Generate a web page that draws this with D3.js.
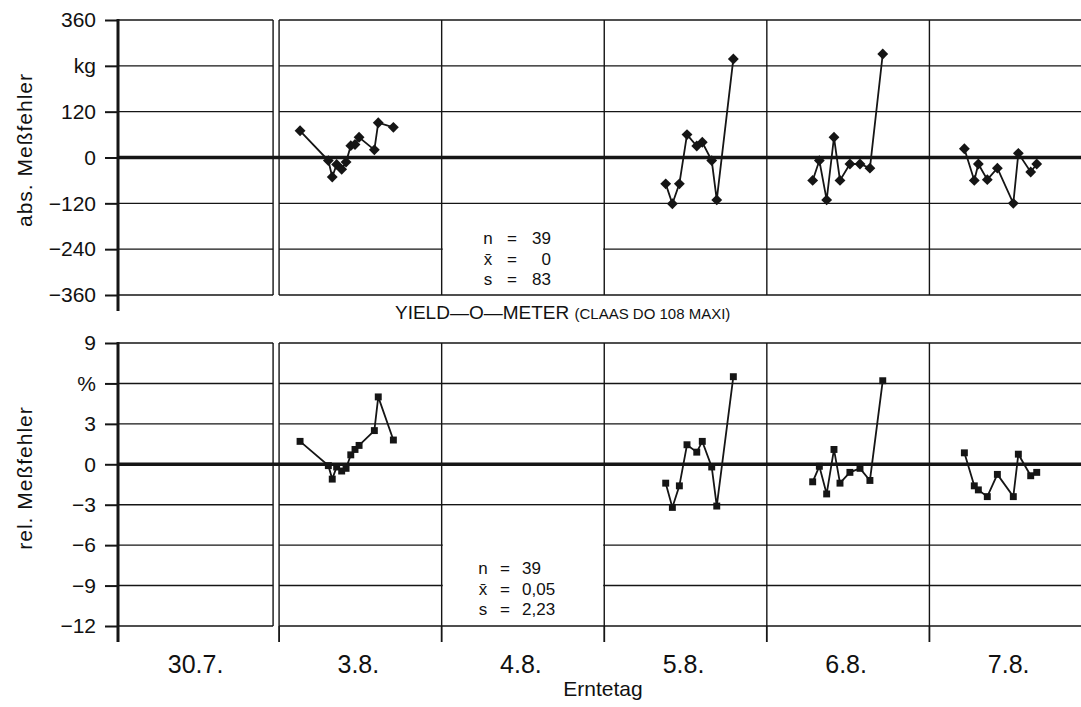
<!DOCTYPE html>
<html>
<head>
<meta charset="utf-8">
<script src="https://cdn.jsdelivr.net/npm/d3@7"></script>
<style>
  body { margin: 0; background: #fff; }
  svg text { font-family: "Liberation Sans", Arial, sans-serif; fill: #111; }
</style>
</head>
<body>
<svg id="chart" width="1081" height="707"></svg>
<script>
// categories (harvest days)
var days = ['30.7.', '3.8.', '4.8.', '5.8.', '6.8.', '7.8.'];

// y ticks
var absTicks = [360, 240, 120, 0, -120, -240, -360];
var absTickLabels = ['360', 'kg', '120', '0', '\u2212120', '\u2212240', '\u2212360'];
var relTicks = [9, 6, 3, 0, -3, -6, -9, -12];
var relTickLabels = ['9', '%', '3', '0', '\u22123', '\u22126', '\u22129', '\u221212'];

// measurements: position in day units, absolute error (kg), relative error (%)
var posAug3 = [1.129, 1.303, 1.327, 1.354, 1.385, 1.412, 1.441, 1.467, 1.492, 1.586, 1.610, 1.703];
var absAug3 = [70, -8, -51, -18, -31, -12, 31, 34, 53, 20, 91, 79];
var relAug3 = [1.7, -0.1, -1.1, -0.2, -0.5, -0.3, 0.7, 1.1, 1.4, 2.5, 5.0, 1.8];

var posAug5 = [3.378, 3.419, 3.462, 3.509, 3.569, 3.603, 3.661, 3.692, 3.794];
var absAug5 = [-69, -121, -69, 60, 30, 40, -8, -111, 258];
var relAug5 = [-1.4, -3.2, -1.6, 1.45, 0.9, 1.7, -0.2, -3.1, 6.5];

var posAug6 = [4.282, 4.323, 4.368, 4.413, 4.450, 4.511, 4.573, 4.634, 4.713];
var absAug6 = [-60, -8, -111, 53, -60, -17, -17, -28, 271];
var relAug6 = [-1.3, -0.15, -2.2, 1.1, -1.4, -0.6, -0.3, -1.2, 6.2];

var posAug7 = [5.215, 5.276, 5.301, 5.356, 5.418, 5.516, 5.547, 5.623, 5.660];
var absAug7 = [23, -60, -17, -58, -28, -120, 11, -38, -17];
var relAug7 = [0.85, -1.6, -1.9, -2.4, -0.75, -2.4, 0.75, -0.85, -0.6];

// summary statistics
var absStats = [['n', '39'], ['x\u0304', '0'], ['s', '83']];
var relStats = [['n', '39'], ['x\u0304', '0,05'], ['s', '2,23']];

var runs = [
  {pos: posAug3, abs: absAug3, rel: relAug3},
  {pos: posAug5, abs: absAug5, rel: relAug5},
  {pos: posAug6, abs: absAug6, rel: relAug6},
  {pos: posAug7, abs: absAug7, rel: relAug7}
];

var svg = d3.select('#chart');
var ink = '#151515';
var axisX = 118, rightEdge = 1092, gap = 6;

var x = d3.scaleLinear().domain([0, 6]).range([116.5, 1092]);
var yAbs = d3.scaleLinear().domain([-360, 360]).range([295, 20]);
var yRel = d3.scaleLinear().domain([-12, 9]).range([626, 343]);

function drawPanel(y, ticks, tickLabels, values, marker, stats, statsY, statsAlign) {
  var g = svg.append('g');
  var top = y(ticks[0]), bottom = y(ticks[ticks.length - 1]);

  // horizontal grid lines, broken at the gap after the first day
  ticks.forEach(function (t) {
    if (t === 0) return;
    g.append('line').attr('x1', axisX).attr('x2', x(1) - gap).attr('y1', y(t)).attr('y2', y(t))
      .attr('stroke', ink).attr('stroke-width', 1.4);
    g.append('line').attr('x1', x(1)).attr('x2', rightEdge).attr('y1', y(t)).attr('y2', y(t))
      .attr('stroke', ink).attr('stroke-width', 1.4);
  });

  // blank area for the statistics box
  g.append('rect')
    .attr('x', x(2) + 1).attr('width', x(3) - x(2) - 2)
    .attr('y', y(ticks[4]) + 1).attr('height', bottom - y(ticks[4]) - 2)
    .attr('fill', '#fff');

  // vertical day separators
  g.append('line').attr('x1', x(1) - gap).attr('x2', x(1) - gap).attr('y1', top).attr('y2', bottom)
    .attr('stroke', ink).attr('stroke-width', 1.4);
  d3.range(1, 6).forEach(function (d) {
    g.append('line').attr('x1', x(d)).attr('x2', x(d)).attr('y1', top).attr('y2', bottom)
      .attr('stroke', ink).attr('stroke-width', 1.4);
  });

  // zero line
  g.append('line').attr('x1', axisX).attr('x2', rightEdge).attr('y1', y(0)).attr('y2', y(0))
    .attr('stroke', ink).attr('stroke-width', 3.6);

  // y axis
  var axis = d3.axisLeft(y).tickValues(ticks)
    .tickFormat(function (d, i) { return tickLabels[i]; })
    .tickSize(13).tickPadding(9);
  var ag = g.append('g').attr('transform', 'translate(' + axisX + ',0)').call(axis);
  ag.select('.domain').remove();
  ag.selectAll('.tick line').attr('stroke', ink).attr('stroke-width', 2);
  ag.selectAll('.tick text').attr('font-size', 21).attr('fill', ink)
    .attr('font-family', '"Liberation Sans", Arial, sans-serif');
  g.append('line').attr('x1', axisX).attr('x2', axisX).attr('y1', top - 1).attr('y2', bottom + 16)
    .attr('stroke', ink).attr('stroke-width', 3);

  // series
  var line = d3.line().x(function (d) { return x(d[0]); }).y(function (d) { return y(d[1]); });
  runs.forEach(function (r) {
    var pts = r.pos.map(function (p, i) { return [p, r[values][i]]; });
    g.append('path').datum(pts).attr('d', line)
      .attr('fill', 'none').attr('stroke', ink).attr('stroke-width', 1.8);
    g.selectAll(null).data(pts).enter().append('path')
      .attr('transform', function (d) { return 'translate(' + x(d[0]) + ',' + y(d[1]) + ')'; })
      .attr('d', marker)
      .attr('fill', ink);
  });

  // statistics text
  var sg = g.append('g').attr('font-size', 17);
  stats.forEach(function (s, i) {
    var ty = statsY + i * 20.5;
    sg.append('text').attr('x', statsAlign.label).attr('y', ty).attr('text-anchor', 'middle').text(s[0]);
    sg.append('text').attr('x', statsAlign.eq).attr('y', ty).attr('text-anchor', 'middle').text('=');
    sg.append('text').attr('x', statsAlign.value).attr('y', ty).attr('text-anchor', statsAlign.anchor).text(s[1]);
  });
  return g;
}

var diamond = d3.symbol().type(d3.symbolDiamond2).size(75)();
var square = d3.symbol().type(d3.symbolSquare).size(48)();

drawPanel(yAbs, absTicks, absTickLabels, 'abs', diamond, absStats, 244,
  {label: 488, eq: 512, value: 551, anchor: 'end'});
var relPanel = drawPanel(yRel, relTicks, relTickLabels, 'rel', square, relStats, 574,
  {label: 483, eq: 505, value: 522, anchor: 'start'});

// x ticks below lower panel
d3.range(1, 6).forEach(function (d) {
  relPanel.append('line').attr('x1', x(d)).attr('x2', x(d)).attr('y1', yRel(-12)).attr('y2', 642)
    .attr('stroke', ink).attr('stroke-width', 1.8);
});

// x labels
svg.append('g').selectAll('text').data(days).enter().append('text')
  .attr('x', function (d, i) { return i === 0 ? (axisX + x(1) - gap) / 2 : (x(i) + x(i + 1)) / 2 - 2; })
  .attr('y', 673)
  .attr('text-anchor', 'middle')
  .attr('font-size', 25)
  .text(function (d) { return d; });

svg.append('text').attr('x', 603).attr('y', 696).attr('text-anchor', 'middle')
  .attr('font-size', 21).text('Erntetag');

// y labels
svg.append('text').attr('transform', 'translate(32,150) rotate(-90)')
  .attr('text-anchor', 'middle').attr('font-size', 21).attr('letter-spacing', 1)
  .text('abs.  Meßfehler');
svg.append('text').attr('transform', 'translate(32,478) rotate(-90)')
  .attr('text-anchor', 'middle').attr('font-size', 21).attr('letter-spacing', 1)
  .text('rel.  Meßfehler');

// title between panels
var title = svg.append('text').attr('x', 395).attr('y', 319).attr('xml:space', 'preserve');
title.append('tspan').attr('font-size', 19).text('YIELD\u2014O\u2014METER ');
title.append('tspan').attr('font-size', 15).text('(CLAAS DO 108 MAXI)');
</script>
</body>
</html>
